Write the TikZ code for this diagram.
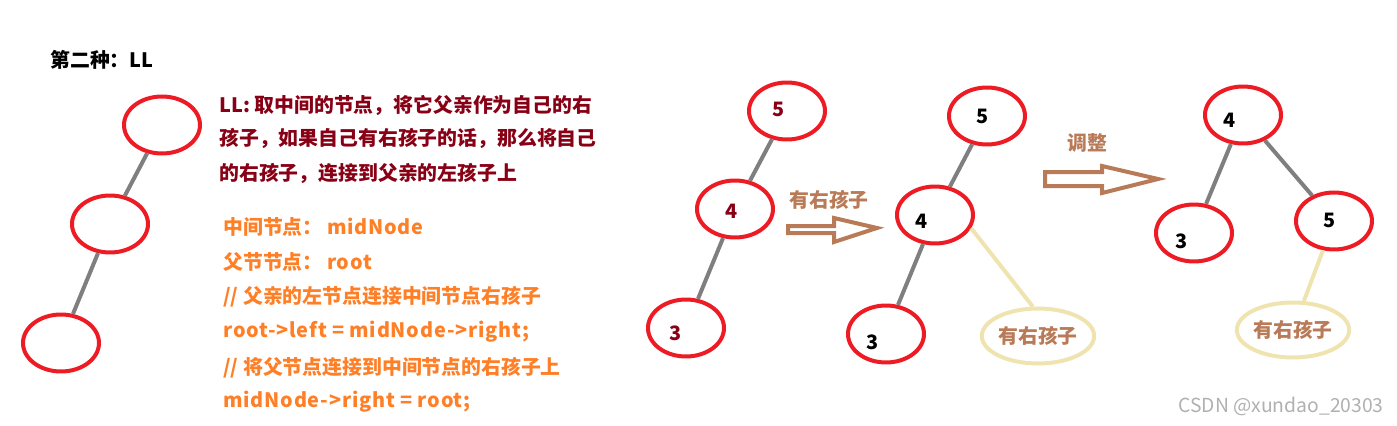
\documentclass[tikz,border=0pt]{standalone}
\usepackage{fontspec}
\setmainfont{Noto Sans CJK SC}
\newfontfamily\wide{Noto Sans CJK SC}[LetterSpace=4]
\usetikzlibrary{shapes.geometric}
\definecolor{ringred}{HTML}{ED1C24}
\definecolor{stemgray}{HTML}{7F7F7F}
\definecolor{deepred}{HTML}{880015}
\definecolor{codeorange}{HTML}{FF7F27}
\definecolor{clay}{HTML}{B97A57}
\definecolor{straw}{HTML}{EFE4B0}
\definecolor{markgray}{HTML}{B0B0B0}

\begin{document}
\begin{tikzpicture}[x=0.02cm,y=-0.02cm,
  font=\fontsize{11.3pt}{13pt}\selectfont\bfseries,
  ring/.style={ellipse,draw=ringred,line width=0.08cm,minimum width=1.52cm,
               minimum height=1.14cm,inner sep=0pt},
  kid/.style={ellipse,draw=straw,line width=0.08cm,minimum width=1.88cm,
              minimum height=1.1cm,inner sep=0pt,text=clay},
  num/.style={inner sep=0pt},
  txt/.style={anchor=west,inner sep=0pt},
  stem/.style={draw=stemgray,line width=0.08cm},
  kidlink/.style={draw=straw,line width=0.08cm},
  fat/.style={draw=clay,line width=0.08cm,line join=miter},
]
  \useasboundingbox (0,0) rectangle (1397,426);

  \node[txt] (ttl) at (50,60) {第二种：LL};

  % left tree, no keys
  \node[ring] (e1) at (162,125) {};
  \node[ring] (e2) at (110,224) {};
  \node[ring] (e3) at (61,343) {};
  \draw[stem] (e1) -- (e2);
  \draw[stem] (e2) -- (e3);

  \node[txt,text=deepred] (rule1) at (219,105) {LL: 取中间的节点，将它父亲作为自己的右};
  \node[txt,text=deepred] (rule2) at (219,138) {孩子，如果自己有右孩子的话，那么将自己};
  \node[txt,text=deepred] (rule3) at (219,173) {的右孩子，连接到父亲的左孩子上};

  \node[txt,text=codeorange] (code1) at (223,227) {中间节点：\ {\wide midNode}};
  \node[txt,text=codeorange] (code2) at (223,262) {父节节点：\ {\wide root}};
  \node[txt,text=codeorange] (code3) at (223,297) {// 父亲的左节点连接中间节点右孩子};
  \node[txt,text=codeorange] (code4) at (223,332) {\wide root->left = midNode->right;};
  \node[txt,text=codeorange] (code5) at (223,368) {// 将父节点连接到中间节点的右孩子上};
  \node[txt,text=codeorange] (code6) at (223,402) {\wide midNode->right = root;};

  % before
  \node[ring] (a5) at (787,111) {};
  \node[ring] (a4) at (735,209) {};
  \node[ring] (a3) at (686,328) {};
  \node[num,text=deepred] (a5t) at (779,109) {5};
  \node[num,text=deepred] (a4t) at (732,211) {4};
  \node[num,text=deepred] (a3t) at (676,333) {3};
  \draw[stem] (a5) -- (a4);
  \draw[stem] (a4) -- (a3);

  \node[num,text=clay] (step1) at (829,200) {有右孩子};
  \draw[fat] (788,226) -- (834,226) -- (834,218) -- (877,228) -- (834,242)
    -- (834,233) -- (788,233) -- cycle;

  % with right child
  \node[ring] (b5) at (987,116) {};
  \node[ring] (b4) at (935,215) {};
  \node[ring] (b3) at (886,334) {};
  \node[kid] (bk) at (1038,336) {有右孩子};
  \node[num] (b5t) at (983,116) {5};
  \node[num] (b4t) at (922,221) {4};
  \node[num] (b3t) at (873,342) {3};
  \draw[stem] (b5) -- (b4);
  \draw[stem] (b4) -- (b3);
  \draw[kidlink] (b4.-20) -- (bk.100);

  \node[num,text=clay] (step2) at (1087,143) {调整};
  \draw[fat] (1045,172) -- (1102,172) -- (1102,166) -- (1158,179) -- (1102,193)
    -- (1102,186) -- (1045,186) -- cycle;

  % after
  \node[ring] (c4) at (1243,115) {};
  \node[ring] (c3) at (1194,233) {};
  \node[ring] (c5) at (1334,221) {};
  \node[kid] (ck) at (1293,330) {有右孩子};
  \node[num] (c4t) at (1230,120) {4};
  \node[num] (c3t) at (1182,241) {3};
  \node[num] (c5t) at (1330,220) {5};
  \draw[stem] (c4) -- (c3);
  \draw[stem] (c4) -- (c5);
  \draw[kidlink] (c5) -- (ck);

  \node[txt,text=markgray,font=\fontsize{11pt}{13pt}\selectfont] (mark) at (1178,406)
    {CSDN @xundao\_20303};
\end{tikzpicture}
\end{document}
